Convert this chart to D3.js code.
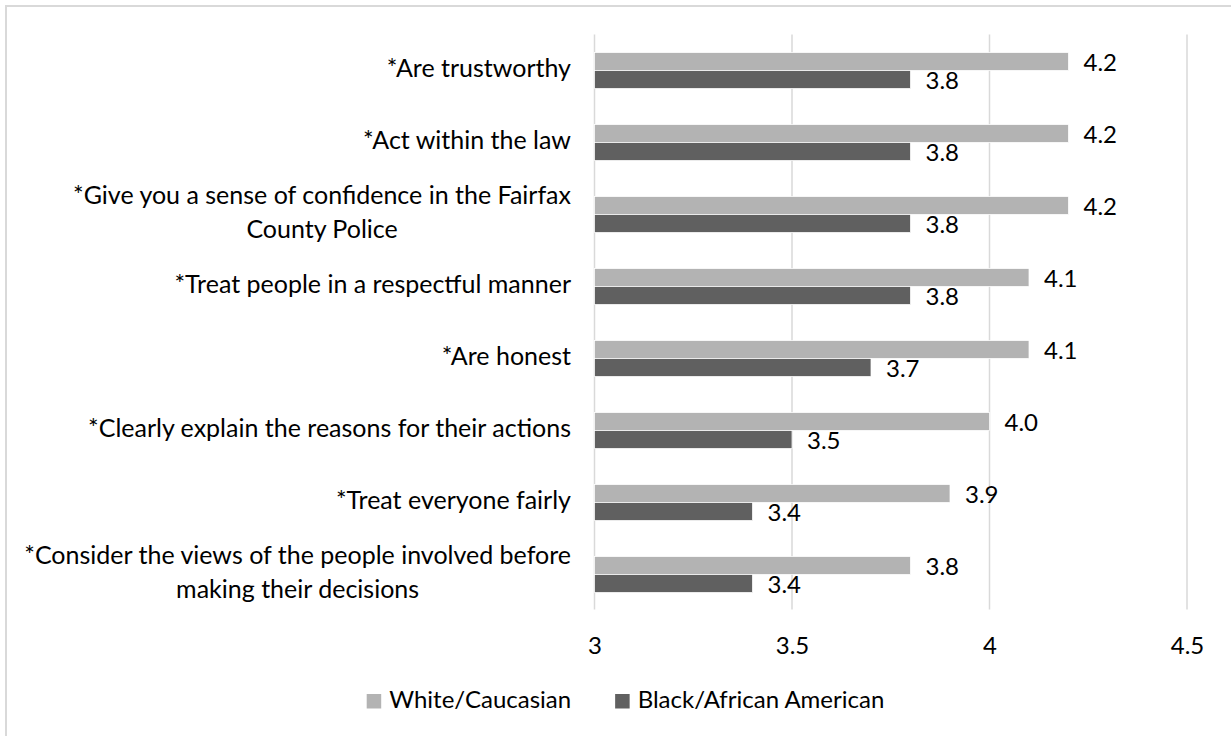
<!DOCTYPE html>
<html>
<head>
<meta charset="utf-8">
<script src="https://cdn.jsdelivr.net/npm/d3@7/dist/d3.min.js"></script>
<style>
  html, body { margin: 0; padding: 0; background: #fff; }
  svg { display: block; }
  text { font-family: Lato, "Open Sans", sans-serif; fill: #000; }
</style>
</head>
<body>
<svg id="chart" width="1231" height="736"></svg>
<script>
// ---- data ----
const categories = [
  ["*Are trustworthy"],
  ["*Act within the law"],
  ["*Give you a sense of confidence in the Fairfax", "County Police"],
  ["*Treat people in a respectful manner"],
  ["*Are honest"],
  ["*Clearly explain the reasons for their actions"],
  ["*Treat everyone fairly"],
  ["*Consider the views of the people involved before", "making their decisions"]
];
const seriesNames = ["White/Caucasian", "Black/African American"];
const whiteValues = [4.2, 4.2, 4.2, 4.1, 4.1, 4.0, 3.9, 3.8];
const blackValues = [3.8, 3.8, 3.8, 3.8, 3.7, 3.5, 3.4, 3.4];
const xTicks = [3, 3.5, 4, 4.5];
const seriesColors = ["#b3b3b3", "#606060"];

// ---- layout ----
const svg = d3.select("#chart");
const FS = 24;     // values, ticks, legend
const FS_CAT = 25; // category labels
const gridColor = "#d9d9d9";

// outer frame (extends past the visible area on right / bottom)
svg.append("rect")
  .attr("x", 6).attr("y", 6).attr("width", 1400).attr("height", 900)
  .attr("fill", "none").attr("stroke", gridColor).attr("stroke-width", 2);

const x = d3.scaleLinear().domain([3, 4.5]).range([594.5, 1187]);
const idx = d3.range(categories.length);
const y = d3.scaleBand().domain(idx).range([34.5, 610.5]).paddingInner(0.5).paddingOuter(0.25);
const ySub = d3.scaleBand().domain([0, 1]).range([0, y.bandwidth()]);

// gridlines
const gGrid = svg.append("g");
gGrid.selectAll("line").data(xTicks).join("line")
  .attr("x1", d => x(d)).attr("x2", d => x(d))
  .attr("y1", 34.5).attr("y2", 609.5)
  .attr("stroke", gridColor).attr("stroke-width", 1.5);

// x axis tick labels
const xAxis = d3.axisBottom(x).tickValues(xTicks).tickSize(0).tickFormat(d => String(d));
const gx = svg.append("g").attr("transform", "translate(0,654)").call(xAxis);
gx.select(".domain").remove();
gx.selectAll("text").attr("font-size", FS).attr("font-family", "Lato, sans-serif")
  .attr("fill", "#000").attr("dy", null).attr("y", 0);

// bars
const rows = idx.map(i => ({ i, vals: [whiteValues[i], blackValues[i]] }));
const gBars = svg.append("g");
rows.forEach(r => {
  r.vals.forEach((v, s) => {
    const by = y(r.i) + ySub(s);
    gBars.append("rect")
      .attr("x", x(3)).attr("y", by)
      .attr("width", x(v) - x(3)).attr("height", ySub.bandwidth())
      .attr("fill", seriesColors[s]).attr("stroke", "#ffffff").attr("stroke-width", 0.75);
    gBars.append("text")
      .attr("x", x(v) + 15).attr("y", by + ySub.bandwidth())
      .attr("font-size", FS)
      .text(v.toFixed(1));
  });
});

// category labels (block right aligned, lines centered)
const gLab = svg.append("g");
const rightEdge = 571;
const lineH = 34;
categories.forEach((lines, i) => {
  const cy = y(i) + y.bandwidth() / 2;
  const g = gLab.append("g");
  const texts = lines.map((ln, k) => g.append("text")
    .attr("font-size", FS_CAT)
    .attr("y", cy + 6 + (k - (lines.length - 1) / 2) * lineH)
    .text(ln));
  const widths = texts.map(t => t.node().getComputedTextLength());
  const maxW = d3.max(widths);
  texts.forEach(t => t.attr("x", rightEdge - maxW / 2).attr("text-anchor", "middle"));
});

// legend
const gLeg = svg.append("g");
const sq = 14.5, gapTxt = 8, gapItem = 44;
const items = seriesNames.map((name, s) => {
  const g = gLeg.append("g");
  g.append("rect").attr("x", 0).attr("y", 694).attr("width", sq).attr("height", sq)
    .attr("fill", seriesColors[s]);
  const t = g.append("text").attr("x", sq + gapTxt).attr("y", 708).attr("font-size", FS).text(name);
  const w = sq + gapTxt + t.node().getComputedTextLength();
  return { g, w };
});
const totalW = d3.sum(items, d => d.w) + gapItem * (items.length - 1);
let cursor = 625.5 - totalW / 2;
items.forEach(it => { it.g.attr("transform", `translate(${cursor},0)`); cursor += it.w + gapItem; });
</script>
</body>
</html>
